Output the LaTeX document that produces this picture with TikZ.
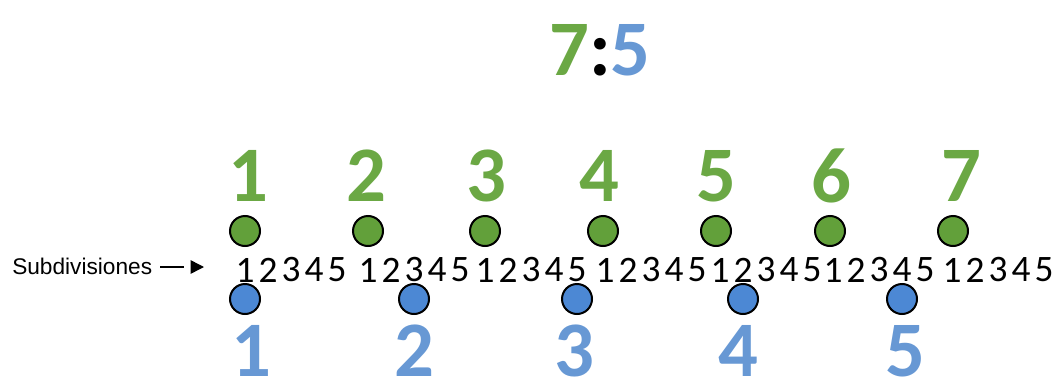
\documentclass[tikz,border=0pt]{standalone}
\usepackage{fontspec}
\setmainfont{Carlito}
\newfontfamily\arialfont{Liberation Sans}
\usetikzlibrary{arrows.meta}
\definecolor{gtext}{HTML}{6BA844}
\definecolor{gfill}{HTML}{62A03A}
\definecolor{btext}{HTML}{6798D4}
\definecolor{bfill}{HTML}{4C88D4}
\tikzset{
  bignum/.style={font=\fontsize{59}{59}\selectfont\bfseries, inner sep=0pt, anchor=center},
  greennum/.style={bignum, text=gtext},
  bluenum/.style={bignum, text=btext},
  dot/.style={circle, draw=black, line width=1.5pt, minimum size=22.5pt, inner sep=0pt},
  greendot/.style={dot, fill=gfill},
  bluedot/.style={dot, fill=bfill},
  subdigit/.style={font=\fontsize{28}{28}\selectfont, inner sep=0pt, anchor=center},
}
\begin{document}
\begin{tikzpicture}[x=0.75pt, y=-0.75pt]
\useasboundingbox (0,0) rectangle (1056,389);
% title
\node[bignum] (title) at (600,50) {\textcolor{gtext}{7}\textcolor{black}{:}\textcolor{btext}{5}};
% green labels
\foreach \n/\x in {1/248, 2/366, 3/486, 4/599, 5/716, 6/831, 7/961} {
  \node[greennum] (g\n) at (\x,176) {\n};
}
% green dots
\foreach \n/\x in {1/245, 2/368, 3/485, 4/603, 5/716, 6/830, 7/953} {
  \node[greendot] (gd\n) at (\x,231) {};
}
% subdivisions
\foreach \g/\s in {1/245, 2/368, 3/485, 4/605, 5/720, 6/833, 7/952} {
  \foreach \j in {1,...,5} {
    \node[subdigit] (s\g\j) at ({\s+23*(\j-1)},270) {\j};
  }
}
% blue dots
\foreach \n/\x in {1/245, 2/414, 3/577, 4/743, 5/902} {
  \node[bluedot] (bd\n) at (\x,299) {};
}
% blue labels
\foreach \n/\x in {1/251, 2/414, 3/574, 4/738, 5/905} {
  \node[bluenum] (b\n) at (\x,351) {\n};
}
% label with arrow
\node[font=\arialfont\fontsize{17}{17}\selectfont, inner sep=0pt, anchor=west] (lab) at (12,266) {Subdivisiones};
\coordinate (arrend) at (204,267);
\draw[line width=1.1pt, dash pattern=on 18pt off 5pt, -{Triangle[length=10pt,width=10pt]}] ([xshift=6pt]lab.east |- arrend) -- (arrend);
\end{tikzpicture}
\end{document}
